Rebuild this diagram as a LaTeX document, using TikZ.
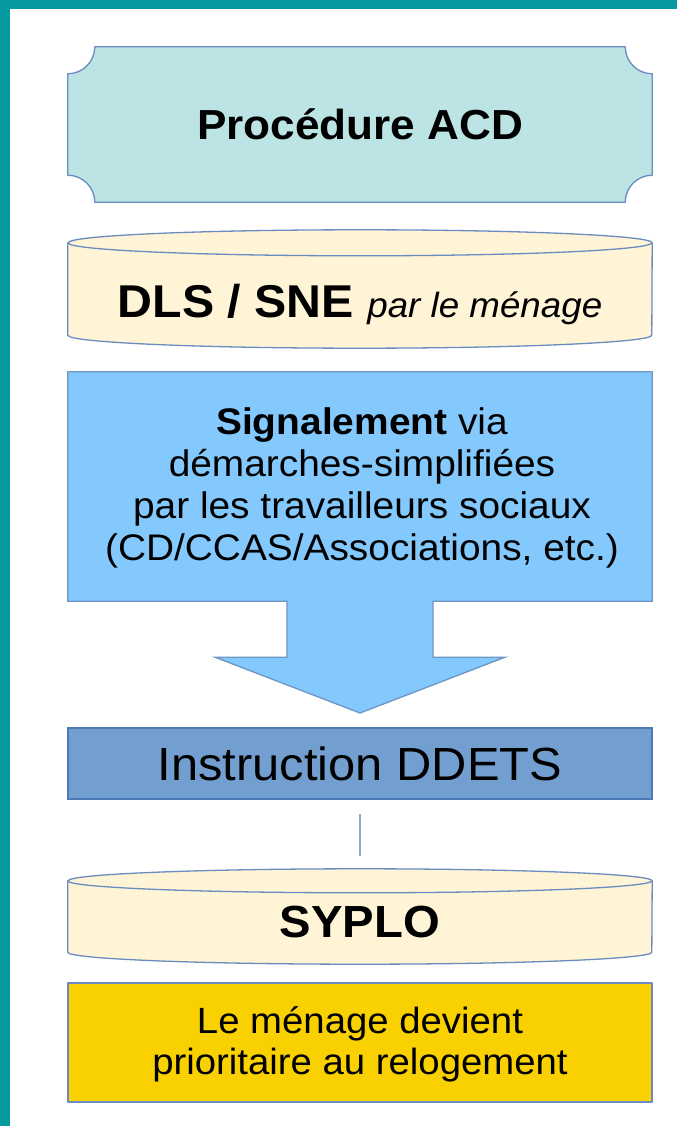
\documentclass[tikz,border=0pt]{standalone}
\usepackage{fontspec}
\setmainfont{Liberation Sans}[FakeStretch=1.05]
\usetikzlibrary{calc}
\definecolor{teal0}{HTML}{049A9F}
\definecolor{plaquefill}{HTML}{BCE4E4}
\definecolor{edgeblue}{HTML}{6B8CC0}
\definecolor{cylfill}{HTML}{FFF4D6}
\definecolor{skyfill}{HTML}{83C9FD}
\definecolor{steelfill}{HTML}{729FCF}
\definecolor{steeledge}{HTML}{4A7AB5}
\definecolor{goldfill}{HTML}{F9D100}
\definecolor{linkgray}{HTML}{98A6CC}
\tikzset{
  area/.style={inner sep=0pt, minimum width=584pt},
  outline/.style={draw=edgeblue, line width=1.3pt, line join=round},
  label/.style={inner sep=0pt, anchor=base, text=black},
}
\begin{document}
\begin{tikzpicture}[x=1pt,y=-1pt]
\useasboundingbox (0,0) rectangle (677,1126);
\fill[white] (0,0) rectangle (677,1126);
% teal frame (top and left)
\fill[teal0] (0,0) rectangle (677,9);
\fill[teal0] (0,0) rectangle (10,1126);

% ---- Procédure ACD (plaque) ----
\node[area, minimum height=155pt] (acd) at (360,124.5) {};
\path[outline, fill=plaquefill]
  ($(acd.north west)+(27,0)$) -- ($(acd.north east)+(-27,0)$) arc(180:90:27)
  -- ($(acd.south east)+(0,-27)$) arc(270:180:27)
  -- ($(acd.south west)+(27,0)$) arc(0:-90:27)
  -- ($(acd.north west)+(0,27)$) arc(90:0:27) -- cycle;
\node[label, font=\bfseries\fontsize{42}{48}\selectfont] (acdtext) at (360,140) {Procédure ACD};

% ---- DLS / SNE cylinder ----
\node[area, minimum height=92pt] (dls) at (360,289) {};
\path[outline, fill=cylfill]
  (dls.north west) -- (dls.south west) arc(180:0:292 and 13)
  -- (dls.north east) arc(0:-180:292 and 13) -- cycle;
\draw[outline] (dls.north west) arc(180:0:292 and 13);
\node[label, font=\fontsize{46}{52}\selectfont] (dlstext) at (360,317)
  {\textbf{DLS / SNE} {\itshape\fontsize{35}{40}\selectfont par le ménage}};

% ---- Signalement box with block arrow ----
\node[area, minimum height=229pt] (sig) at (360,486.5) {};
\coordinate (tip) at (360,713);
\path[draw=steeledge!80, line width=1.3pt, line join=miter, fill=skyfill]
  (sig.north west) -- (sig.north east) -- (sig.south east)
  -- ($(sig.south)+(73,0)$) -- ($(sig.south)+(73,56)$) -- ($(sig.south)+(145,56)$)
  -- (tip)
  -- ($(sig.south)+(-145,56)$) -- ($(sig.south)+(-73,56)$) -- ($(sig.south)+(-73,0)$)
  -- (sig.south west) -- cycle;
\node[inner sep=0pt, align=center, font=\fontsize{37}{42}\selectfont] (sigtext) at (362,488)
  {\textbf{Signalement} via\\démarches-simplifiées\\par les travailleurs sociaux\\(CD/CCAS/Associations, etc.)};

% ---- Instruction DDETS ----
\node[area, minimum height=71pt, fill=steelfill, draw=steeledge, line width=1.3pt] (ddets) at (360,763.5) {};
\node[label, font=\fontsize{46.5}{52}\selectfont] (ddetstext) at (360,780) {Instruction DDETS};

% ---- SYPLO cylinder ----
\node[area, minimum height=71pt] (syplo) at (360,916.5) {};
\path[outline, fill=cylfill]
  (syplo.north west) -- (syplo.south west) arc(180:0:292 and 12)
  -- (syplo.north east) arc(0:-180:292 and 12) -- cycle;
\draw[outline] (syplo.north west) arc(180:0:292 and 12);
\node[label, font=\bfseries\fontsize{45}{50}\selectfont] (syplotext) at (360,937) {SYPLO};

% connector
\draw[linkgray, line width=1.5pt, shorten <=14pt, shorten >=25pt] (ddets.south) -- (syplo.north);

% ---- Yellow result box ----
\node[area, minimum height=119pt, fill=goldfill, outline] (prio) at (360,1042.5) {};
\node[inner sep=0pt, align=center, font=\fontsize{36.5}{41}\selectfont] (priotext) at (360,1044)
  {Le ménage devient\\prioritaire au relogement};
\end{tikzpicture}
\end{document}
